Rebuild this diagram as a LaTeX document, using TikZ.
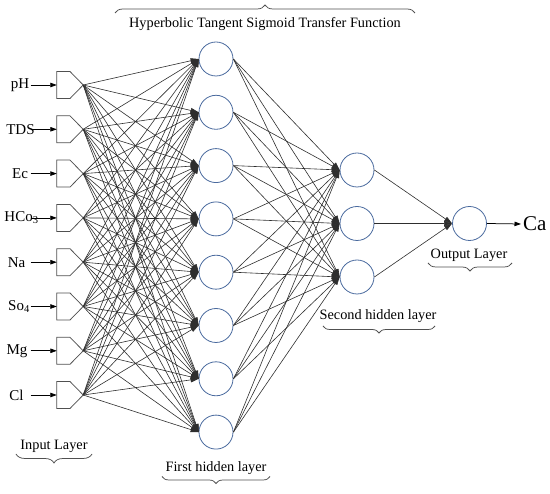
\documentclass[tikz,border=0pt]{standalone}
\usepackage{fontspec}
\setmainfont{Liberation Serif}
\usetikzlibrary{arrows.meta,decorations.pathreplacing,calc}
\definecolor{nblue}{HTML}{4A6A9E}
\definecolor{lgray}{HTML}{2E2E2E}
\definecolor{bgray}{HTML}{505050}
\begin{document}
\begin{tikzpicture}[x=1pt,y=-1pt,
  neuron/.style={circle,draw=nblue,line width=0.8pt,minimum size=34pt,inner sep=0pt},
  inbox/.style={minimum width=26pt,minimum height=26.6pt,inner sep=0pt},
  boxline/.style={draw=bgray,line width=0.75pt},
  conn/.style={draw=lgray,line width=0.6pt,-{Triangle[length=8pt,width=5pt]}},
  feed/.style={draw=black,line width=0.75pt,-{Triangle[length=6.5pt,width=4.5pt]}},
  inlab/.style={font=\fontsize{15}{17}\selectfont,inner sep=0pt},
  laylab/.style={font=\fontsize{14.3}{16}\selectfont,anchor=base,inner sep=0pt},
  brc/.style={decorate,draw=bgray,line width=0.75pt}
]
\path[use as bounding box] (0,0) rectangle (550,494);

% input layer
\foreach \i/\y/\lx/\t in {1/85/20/pH,2/129.3/20.5/TDS,3/173.6/20/Ec,4/217.9/21.5/HCo\textsubscript{3},5/262.2/16.5/Na,6/306.5/19/So\textsubscript{4},7/350.8/17/Mg,8/395/16.5/Cl}{
  \node[inbox] (in\i) at (70,\y) {};
  \draw[boxline] (in\i.north west) -- ($(in\i.north west)!0.5!(in\i.north east)$) -- (in\i.east)
     -- ($(in\i.south west)!0.5!(in\i.south east)$) -- (in\i.south west) -- cycle;
  \node[inlab] (lab\i) at (\lx,\y) {\t};
  \coordinate (s\i) at (30.5,\y);
  \draw[feed] (s\i) -- (in\i.west);
}

% first hidden layer
\foreach \j in {1,...,8}{
  \node[neuron] (ha\j) at (216,{59+53.3*(\j-1)}) {};
}
% second hidden layer
\foreach \k/\y in {1/170,2/223.5,3/277}{
  \node[neuron] (hb\k) at (357,\y) {};
}
% output
\node[neuron] (out) at (469.5,223.5) {};
\node[font=\fontsize{21}{24}\selectfont,anchor=west,inner sep=2pt] (ca) at (521,224) {Ca};

% connections
\foreach \i in {1,...,8}{
  \foreach \j in {1,...,8}{
    \draw[conn] (in\i.east) -- (ha\j.west);
  }
}
\foreach \j in {1,...,8}{
  \foreach \k in {1,2,3}{
    \draw[conn] (ha\j.east) -- (hb\k.west);
  }
}
\foreach \k in {1,2,3}{
  \draw[conn] (hb\k.east) -- (out.west);
}
\draw[feed] (out.east) -- (ca.west);

% labels and braces
\node[laylab] (ttl) at (265,27.5) {Hyperbolic Tangent Sigmoid Transfer Function};
\draw[brc,decoration={brace,amplitude=8pt}] (115,13) -- (415,13);

\node[laylab] (inl) at (54,449.5) {Input Layer};
\draw[brc,decoration={brace,amplitude=9pt}] (92,454) -- (16,454);

\node[laylab] (fhl) at (216,471.5) {First hidden layer};
\draw[brc,decoration={brace,amplitude=7pt}] (270,476.5) -- (162,476.5);

\node[laylab] (shl) at (378,319.5) {Second hidden layer};
\draw[brc,decoration={brace,amplitude=7pt}] (435,326) -- (323,326);

\node[laylab] (ol) at (469,258.5) {Output Layer};
\draw[brc,decoration={brace,amplitude=8pt}] (512,263) -- (428,263);
\end{tikzpicture}
\end{document}
